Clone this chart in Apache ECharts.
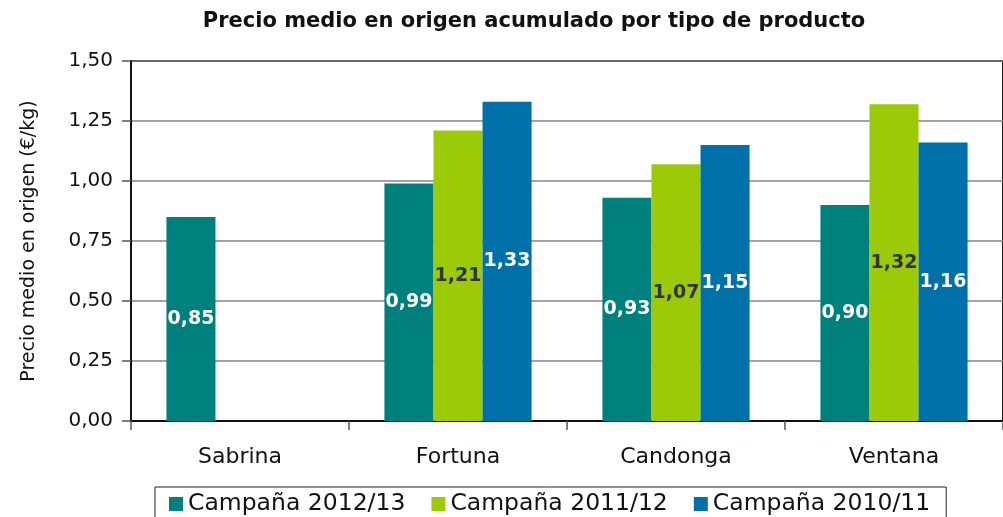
<!DOCTYPE html>
<html>
<head>
<meta charset="utf-8">
<script src="https://cdn.jsdelivr.net/npm/echarts@6/dist/echarts.min.js"></script>
<style>html,body{margin:0;padding:0;background:#fff}#c{width:1003px;height:517px}</style>
</head>
<body>
<div id="c"></div>
<script>
const categories = ['Sabrina', 'Fortuna', 'Candonga', 'Ventana'];
const seriesNames = ['Campaña 2012/13', 'Campaña 2011/12', 'Campaña 2010/11'];
const campana1213 = [0.85, 0.99, 0.93, 0.90];
const campana1112 = [null, 1.21, 1.07, 1.32];
const campana1011 = [null, 1.33, 1.15, 1.16];
const yTicks = [0, 0.25, 0.5, 0.75, 1.0, 1.25, 1.5];

const FONT = 'DejaVu Sans';
const colors = ['#00807C', '#9CC908', '#0070A8'];
const labelColors = ['#ffffff', '#333333', '#ffffff'];
const fmt = v => v.toFixed(2).replace('.', ',');

function mk(i, data) {
  return {
    name: seriesNames[i], type: 'bar', data: data,
    itemStyle: { color: colors[i] },
    barGap: 0, barCategoryGap: '32.5%',
    label: {
      show: true, position: 'inside', color: labelColors[i],
      fontFamily: FONT, fontWeight: 'bold', fontSize: 19,
      formatter: p => fmt(p.value)
    }
  };
}

const chart = echarts.init(document.getElementById('c'), null, { renderer: 'canvas' });
chart.setOption({
  animation: false,
  backgroundColor: '#fff',
  title: {
    text: 'Precio medio en origen acumulado por tipo de producto',
    left: 529, top: 6, textAlign: 'center',
    textStyle: { fontFamily: FONT, fontWeight: 'bold', fontSize: 21, color: '#111' }
  },
  grid: { left: 131, right: 0, top: 61, bottom: 96, show: true, borderColor: '#1a1a1a', borderWidth: 2, backgroundColor: 'transparent' },
  legend: {
    data: seriesNames, left: 155, top: 487,
    itemWidth: 14, itemHeight: 14, itemGap: 26,
    borderColor: '#222', borderWidth: 1, padding: [5, 16, 12, 14],
    icon: 'rect',
    textStyle: { fontFamily: FONT, fontSize: 23.5, color: '#111' }
  },
  xAxis: {
    type: 'category', data: categories,
    axisLine: { lineStyle: { color: '#111', width: 2 } },
    axisTick: { show: true, length: 9, lineStyle: { color: '#555', width: 1.5 } },
    axisLabel: { fontFamily: FONT, fontSize: 22, color: '#111', margin: 25 }
  },
  yAxis: {
    type: 'value', min: 0, max: 1.5, interval: 0.25,
    name: 'Precio medio en origen (€/kg)', nameLocation: 'middle', nameGap: 92,
    nameTextStyle: { fontFamily: FONT, fontSize: 19, color: '#111' },
    axisLine: { show: true, lineStyle: { color: '#111', width: 2 } },
    axisTick: { show: true, length: 9, lineStyle: { color: '#555', width: 1.5 } },
    axisLabel: { fontFamily: FONT, fontSize: 20, color: '#111', margin: 18,
      formatter: v => yTicks.some(t => Math.abs(t - v) < 1e-9) ? fmt(v) : '' },
    splitLine: { lineStyle: { color: '#858585', width: 1.5 } }
  },
  series: [mk(0, campana1213), mk(1, campana1112), mk(2, campana1011)]
});
</script>
</body>
</html>
